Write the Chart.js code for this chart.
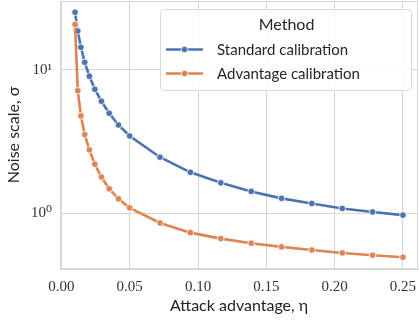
<!DOCTYPE html>
<html>
<head>
<meta charset="utf-8">
<script src="https://cdn.jsdelivr.net/npm/chart.js@4.4.1/dist/chart.umd.min.js"></script>
<style>
  html, body { margin: 0; padding: 0; background: #fff; }
  #wrap { width: 419px; height: 324px; }
</style>
</head>
<body>
<div id="wrap"><canvas id="chart" width="419" height="324"></canvas></div>
<script>
// ── data ──────────────────────────────────────────────────────────────────
const eta = [0.01, 0.012, 0.0143, 0.0171, 0.0205, 0.0245, 0.0293, 0.035, 0.0418, 0.05,
             0.0722, 0.0944, 0.1167, 0.1389, 0.1611, 0.1833, 0.2056, 0.2278, 0.25];
const standardSigma = [25.3, 18.7, 14.4, 11.3, 9.04, 7.33, 6.05, 4.99, 4.13, 3.46,
                       2.46, 1.93, 1.63, 1.42, 1.27, 1.17, 1.08, 1.02, 0.97];
const advantageSigma = [20.8, 7.17, 4.78, 3.54, 2.77, 2.20, 1.79, 1.48, 1.26, 1.09,
                        0.855, 0.732, 0.665, 0.618, 0.582, 0.554, 0.528, 0.509, 0.493];
const seriesNames = ['Standard calibration', 'Advantage calibration'];
const xTicks = [0, 0.05, 0.10, 0.15, 0.20, 0.25];
const yTicks = [1, 10];
const yTickLabels = ['10\u2070', '10\u00B9'];

const BLUE   = '#4c72b0';
const ORANGE = '#dd8452';
const GRID   = '#d6d6d6';
const SANS   = "Lato, 'Open Sans', 'DejaVu Sans', sans-serif";
const SERIF  = "'Liberation Serif', 'DejaVu Serif', serif";

function pts(ys) { return eta.map((x, i) => ({ x, y: ys[i] })); }

function lineSet(label, data, color, order) {
  return {
    label, data, order,
    borderColor: color,
    backgroundColor: color,
    borderWidth: 2.6,
    pointRadius: 3.3,
    pointBackgroundColor: color,
    pointBorderColor: '#fff',
    pointBorderWidth: 0.8,
    tension: 0,
  };
}

// no label-overhang padding: plot box goes right to the edges
function noPad(s) {
  s.paddingTop = 0; s.paddingBottom = 0;
  s.paddingLeft = 0; s.paddingRight = 0;
}

// frame on all four sides + seaborn-like legend box
const framePlugin = {
  id: 'frame',
  afterDraw(chart) {
    const { ctx, chartArea: a } = chart;
    ctx.save();
    ctx.strokeStyle = GRID;
    ctx.lineWidth = 1;
    ctx.strokeRect(a.left + 0.5, a.top + 0.5, a.right - a.left - 1, a.bottom - a.top - 1);

    // legend
    const bx = 160, by = 9, bw = 251, bh = 81;
    ctx.beginPath();
    ctx.roundRect(bx + 0.5, by + 0.5, bw, bh, 4);
    ctx.fillStyle = 'rgba(255,255,255,0.85)';
    ctx.fill();
    ctx.strokeStyle = '#d8d8d8';
    ctx.stroke();

    ctx.fillStyle = '#262626';
    ctx.textBaseline = 'middle';
    ctx.textAlign = 'center';
    ctx.font = '16px ' + SANS;
    ctx.fillText('Method', bx + bw / 2 + 1, 25);

    const rows = [[seriesNames[0], BLUE, 49.5], [seriesNames[1], ORANGE, 73.5]];
    ctx.textAlign = 'left';
    ctx.font = '15px ' + SANS;
    rows.forEach(([name, color, y]) => {
      ctx.strokeStyle = color;
      ctx.lineWidth = 2.6;
      ctx.beginPath();
      ctx.moveTo(166, y);
      ctx.lineTo(203, y);
      ctx.stroke();
      ctx.beginPath();
      ctx.arc(184.5, y, 3.3, 0, Math.PI * 2);
      ctx.fillStyle = color;
      ctx.fill();
      ctx.strokeStyle = '#fff';
      ctx.lineWidth = 0.8;
      ctx.stroke();
      ctx.fillStyle = '#262626';
      ctx.fillText(name, 217, y + 0.5);
    });
    ctx.restore();
  },
};

new Chart(document.getElementById('chart'), {
  type: 'line',
  data: {
    datasets: [
      lineSet(seriesNames[0], pts(standardSigma), BLUE, 1),
      lineSet(seriesNames[1], pts(advantageSigma), ORANGE, 0),
    ],
  },
  options: {
    responsive: false,
    animation: false,
    devicePixelRatio: 1,
    layout: { autoPadding: false, padding: { top: 1, right: 1, left: 0, bottom: 0 } },
    plugins: { legend: { display: false }, tooltip: { enabled: false } },
    scales: {
      x: {
        type: 'linear',
        min: -0.001, max: 0.261,
        afterBuildTicks: s => { s.ticks = xTicks.map(v => ({ value: v })); },
        afterFit: s => { s.height = 55; noPad(s); },
        grid: { color: GRID, drawTicks: false },
        border: { color: GRID },
        ticks: {
          padding: 9,
          color: '#333',
          font: { family: SERIF, size: 15 },
          callback: v => v.toFixed(2),
        },
        title: {
          display: true,
          text: 'Attack advantage, \u03B7',
          color: '#222',
          font: { family: SANS, size: 16 },
          padding: { bottom: 9 },
        },
      },
      y: {
        type: 'logarithmic',
        min: 0.408, max: 30.3,
        afterBuildTicks: s => { s.ticks = yTicks.map(v => ({ value: v })); },
        afterFit: s => { s.width = 60; noPad(s); },
        grid: { color: GRID, drawTicks: false },
        border: { color: GRID },
        ticks: {
          padding: 8,
          color: '#333',
          font: { family: SERIF, size: 15 },
          callback: v => yTickLabels[yTicks.indexOf(v)],
        },
        title: {
          display: true,
          text: 'Noise scale, \u03C3',
          color: '#222',
          font: { family: SANS, size: 16 },
          padding: { top: 4 },
        },
      },
    },
  },
  plugins: [framePlugin],
});
</script>
</body>
</html>
